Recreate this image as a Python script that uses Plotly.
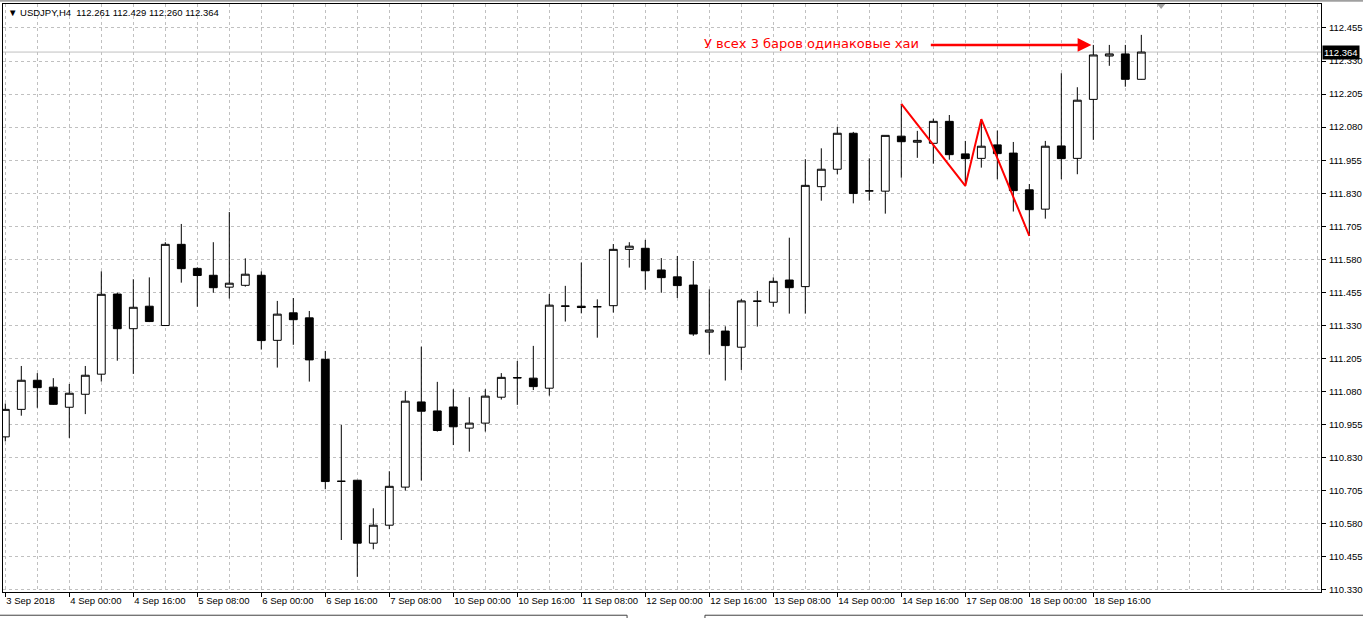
import plotly.graph_objects as go

# ---------------- data (USDJPY, H4) ----------------
opens = [110.909, 111.013, 111.123, 111.097, 111.021, 111.070, 111.146, 111.449, 111.318, 111.403,
         111.330, 111.637, 111.546, 111.520, 111.475, 111.482, 111.520, 111.274, 111.378, 111.359,
         111.202, 110.741, 110.745, 110.507, 110.575, 110.719, 111.041, 111.007, 111.022, 110.942,
         110.961, 111.059, 111.133, 111.131, 111.093, 111.404, 111.403, 111.401, 111.405, 111.618,
         111.622, 111.540, 111.514, 111.483, 111.305, 111.309, 111.248, 111.422, 111.418, 111.502,
         111.477, 111.855, 111.921, 112.057, 111.839, 111.838, 112.046, 112.023, 112.019, 112.102,
         111.979, 111.962, 112.013, 111.982, 111.843, 111.770, 112.009, 111.962, 112.185, 112.349,
         112.357, 112.261]
highs = [111.035, 111.177, 111.150, 111.131, 111.109, 111.177, 111.535, 111.454, 111.505, 111.512,
         111.645, 111.714, 111.550, 111.645, 111.759, 111.584, 111.535, 111.423, 111.434, 111.385,
         111.234, 110.954, 110.746, 110.639, 110.779, 111.083, 111.250, 111.117, 111.089, 111.059,
         111.089, 111.150, 111.196, 111.253, 111.449, 111.480, 111.568, 111.429, 111.638, 111.645,
         111.654, 111.585, 111.593, 111.574, 111.467, 111.327, 111.430, 111.461, 111.512, 111.662,
         111.959, 112.000, 112.081, 112.062, 111.962, 112.049, 112.168, 112.066, 112.112, 112.126,
         112.028, 112.110, 112.067, 112.024, 111.865, 112.028, 112.284, 112.231, 112.391, 112.391,
         112.391, 112.429]
lows = [110.892, 110.989, 111.019, 111.030, 110.905, 110.995, 111.118, 111.197, 111.147, 111.343,
        111.328, 111.492, 111.401, 111.454, 111.432, 111.477, 111.239, 111.171, 111.257, 111.118,
        110.711, 110.519, 110.380, 110.484, 110.560, 110.706, 110.744, 110.929, 110.878, 110.853,
        110.929, 111.050, 111.030, 111.086, 111.065, 111.345, 111.376, 111.284, 111.379, 111.549,
        111.465, 111.454, 111.434, 111.291, 111.220, 111.122, 111.162, 111.326, 111.401, 111.375,
        111.375, 111.802, 111.902, 111.792, 111.802, 111.753, 111.889, 111.964, 111.942, 111.957,
        111.858, 111.927, 111.883, 111.761, 111.669, 111.734, 111.883, 111.902, 112.032, 112.312,
        112.233, 112.260]
closes = [111.013, 111.123, 111.095, 111.032, 111.074, 111.142, 111.448, 111.318, 111.399, 111.345,
          111.637, 111.545, 111.519, 111.473, 111.490, 111.524, 111.273, 111.373, 111.352, 111.200,
          110.740, 110.741, 110.507, 110.575, 110.722, 111.044, 111.006, 110.933, 110.947, 110.961,
          111.063, 111.134, 111.132, 111.099, 111.407, 111.403, 111.398, 111.401, 111.618, 111.630,
          111.537, 111.511, 111.481, 111.298, 111.313, 111.254, 111.423, 111.422, 111.497, 111.473,
          111.860, 111.921, 112.057, 111.829, 111.839, 112.049, 112.025, 112.030, 112.102, 111.976,
          111.961, 112.008, 111.980, 111.840, 111.768, 112.008, 111.961, 112.182, 112.353, 112.357,
          112.261, 112.364]
bar_index = list(range(len(opens)))

# time-scale labels (one every 4 H4 bars)
time_tick_bars = [0, 4, 8, 12, 16, 20, 24, 28, 32, 36, 40, 44, 48, 52, 56, 60, 64, 68]
time_tick_labels = ["3 Sep 2018", "4 Sep 00:00", "4 Sep 16:00", "5 Sep 08:00", "6 Sep 00:00",
                    "6 Sep 16:00", "7 Sep 08:00", "10 Sep 00:00", "10 Sep 16:00", "11 Sep 08:00",
                    "12 Sep 00:00", "12 Sep 16:00", "13 Sep 08:00", "14 Sep 00:00", "14 Sep 16:00",
                    "17 Sep 08:00", "18 Sep 00:00", "18 Sep 16:00"]
price_ticks = [110.330, 110.455, 110.580, 110.705, 110.830, 110.955, 111.080, 111.205, 111.330,
               111.455, 111.580, 111.705, 111.830, 111.955, 112.080, 112.205, 112.330, 112.455]

# zigzag drawn by hand on the chart: high, low, high, low
zz_bars = [56, 60, 61, 64]
zz_kind = ["high", "low", "high", "low"]
equal_high_bars = [68, 69, 70]

symbol = "USDJPY,H4"
note_text = "У всех 3 баров одинаковые хаи"

# ---------------- figure ----------------
FONT = "Liberation Sans, DejaVu Sans"
FS = 9.5
GRID = "#c0c0c0"

fig = go.Figure()
fig.add_trace(go.Candlestick(
    x=bar_index, open=opens, high=highs, low=lows, close=closes,
    increasing=dict(line=dict(color="black", width=1), fillcolor="white"),
    decreasing=dict(line=dict(color="black", width=1), fillcolor="black"),
    whiskerwidth=0, hoverinfo="skip", showlegend=False,
))

zz_y = [highs[b] if k == "high" else lows[b] for b, k in zip(zz_bars, zz_kind)]
fig.add_trace(go.Scatter(x=zz_bars, y=zz_y, mode="lines",
                         line=dict(color="#ff0000", width=2), hoverinfo="skip", showlegend=False))

last_close = closes[-1]
fig.add_shape(type="line", xref="paper", yref="y", x0=0, x1=1, y0=last_close, y1=last_close,
              line=dict(color="#c0c0c0", width=1), layer="below")

# arrow pointing to the equal highs
arrow_y = highs[equal_high_bars[0]]
fig.add_annotation(x=equal_high_bars[0] - 0.12, y=arrow_y, ax=57.75, ay=arrow_y,
                   xref="x", yref="y", axref="x", ayref="y", text="", showarrow=True,
                   arrowhead=2, arrowsize=1.1, arrowwidth=2.5, arrowcolor="#ff0000")
fig.add_annotation(x=57.25, y=arrow_y, xref="x", yref="y", text=note_text, showarrow=False,
                   xanchor="right", yanchor="middle", yshift=1,
                   font=dict(family="DejaVu Sans", size=13, color="#ff0000"))

# header
fig.add_annotation(x=0, y=1, xref="paper", yref="paper", xanchor="left", yanchor="top",
                   xshift=3, yshift=-1, showarrow=False,
                   text="▼ " + symbol + "  " + " ".join(f"{v:.3f}" for v in
                                                         (opens[-1], highs[-1], lows[-1], closes[-1])),
                   font=dict(family=FONT, size=FS, color="black"))

# current price label on the price scale
fig.add_annotation(x=1, y=last_close, xref="paper", yref="y", xanchor="left", yanchor="middle",
                   xshift=1, showarrow=False, text=f"{last_close:.3f}", bgcolor="black",
                   borderpad=1, font=dict(family=FONT, size=FS, color="white"))

# chart-shift marker
fig.add_shape(type="path", xref="paper", yref="paper",
              path="M 0.8757 1.0 L 0.8818 1.0 L 0.8787 0.9915 Z",
              fillcolor="#a0a0a0", line=dict(width=0))

# terminal tab strip under the chart
for x0, x1 in [(-0.01, 0.4735), (0.5326, 1.05)]:
    fig.add_shape(type="rect", xref="paper", yref="paper", x0=x0, x1=x1, y0=-0.0395, y1=-0.06,
                  line=dict(color="#404040", width=1), fillcolor="white")
fig.add_shape(type="line", xref="paper", yref="paper", x0=-0.01, x1=1.05, y0=1.0055, y1=1.0055,
              line=dict(color="#a0a0a0", width=2))

fig.update_layout(
    width=1363, height=618, autosize=False,
    margin=dict(l=3, r=42, t=4, b=26, autoexpand=False),
    paper_bgcolor="white", plot_bgcolor="white",
    font=dict(family=FONT, size=FS, color="black"),
    showlegend=False,
    xaxis=dict(
        range=[-0.144, 82.23], rangeslider=dict(visible=False),
        tickmode="array", tickvals=time_tick_bars, ticktext=time_tick_labels,
        ticks="outside", ticklen=4, tickcolor="black", ticklabelposition="outside right",
        tickangle=0, automargin=False,
        tickfont=dict(family=FONT, size=FS, color="black"),
        showgrid=True, gridcolor=GRID, griddash="3px,3px", gridwidth=1,
        minor=dict(tickmode="array", tickvals=list(range(0, 84, 2)), showgrid=True,
                   gridcolor=GRID, griddash="3px,3px", gridwidth=1),
        showline=True, linecolor="black", linewidth=1, mirror=True, zeroline=False,
        fixedrange=True,
    ),
    yaxis=dict(
        side="right", range=[110.3224, 112.5457], automargin=False,
        tickmode="array", tickvals=price_ticks, ticktext=[f"{v:.3f}" for v in price_ticks],
        ticks="outside", ticklen=4, tickcolor="black", ticklabelstandoff=1,
        tickfont=dict(family=FONT, size=FS, color="black"),
        showgrid=True, gridcolor=GRID, griddash="3px,3px", gridwidth=1,
        showline=True, linecolor="black", linewidth=1, mirror=True, zeroline=False,
        fixedrange=True,
    ),
)

fig.write_html("out.html")
